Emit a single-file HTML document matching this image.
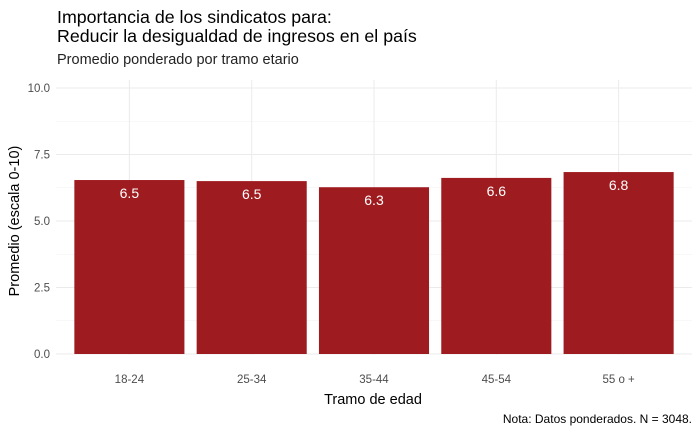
<!DOCTYPE html>
<html><head><meta charset="utf-8"><style>
body{margin:0;background:#fff;}
svg text{font-family:"Liberation Sans",sans-serif;}
</style></head><body>
<svg id="chart" width="700" height="432" xmlns="http://www.w3.org/2000/svg">
<rect width="700" height="432" fill="#fff"/>
<text x="57" y="23" font-size="17.8" fill="#000">Importancia de los sindicatos para:</text>
<text x="57" y="42" font-size="17.8" fill="#000">Reducir la desigualdad de ingresos en el país</text>
<text x="57" y="64" font-size="14.5" fill="#222">Promedio ponderado por tramo etario</text>
<g id="grid"></g>
<g id="bars"></g>
<text x="373" y="404" font-size="14.5" text-anchor="middle" fill="#000">Tramo de edad</text>
<text transform="translate(19,221) rotate(-90)" font-size="14.5" text-anchor="middle" fill="#000">Promedio (escala 0-10)</text>
<text x="692" y="423" font-size="12" text-anchor="end" fill="#000">Nota: Datos ponderados. N = 3048.</text>
</svg>
<script>
const categories=["18-24","25-34","35-44","45-54","55 o +"];
const values=[6.54,6.50,6.27,6.62,6.84];
const yTicks=[0,2.5,5,7.5,10];
const yTickLabels=["0.0","2.5","5.0","7.5","10.0"];
const NS="http://www.w3.org/2000/svg";
const pL=56,pR=692,y0=354,y10=88;
const band=(pR-pL)/(categories.length+0.2);
const xC=i=>pL+band*(0.6+i);
const y=v=>y0-(v/10)*(y0-y10);
const grid=document.getElementById('grid'),bars=document.getElementById('bars');
function mk(tag,attrs,parent){const e=document.createElementNS(NS,tag);for(const k in attrs)e.setAttribute(k,attrs[k]);parent.appendChild(e);return e;}
for(let i=0;i<yTicks.length-1;i++){const l=mk('line',{x1:pL,x2:pR,y1:y((yTicks[i]+yTicks[i+1])/2),y2:y((yTicks[i]+yTicks[i+1])/2),stroke:'#f2f2f2','stroke-width':0.6},grid);

}
yTicks.forEach((t,i)=>{const l=mk('line',{x1:pL,x2:pR,y1:y(t),y2:y(t),stroke:'#ebebeb','stroke-width':1},grid);


const tx=mk('text',{x:pL-6,y:y(t)+4,'font-size':11.5,'text-anchor':'end',fill:'#4d4d4d'},grid);tx.textContent=yTickLabels[i];

});
categories.forEach((c,i)=>{const l=mk('line',{x1:xC(i),x2:xC(i),y1:y10-8,y2:y0+1,stroke:'#ebebeb','stroke-width':1},grid);


const bw=band*0.9;
const r=mk('rect',{x:xC(i)-bw/2,y:y(values[i]),width:bw,height:y0-y(values[i]),fill:'#9e1b1f'},bars);


const v=mk('text',{x:xC(i),y:y(values[i])+18,'font-size':14,'text-anchor':'middle',fill:'#fff'},bars);v.textContent=values[i].toFixed(1);


const t=mk('text',{x:xC(i),y:y0+29,'font-size':11.5,'text-anchor':'middle',fill:'#4d4d4d'},bars);t.textContent=c;

});
</script>
</body></html>
